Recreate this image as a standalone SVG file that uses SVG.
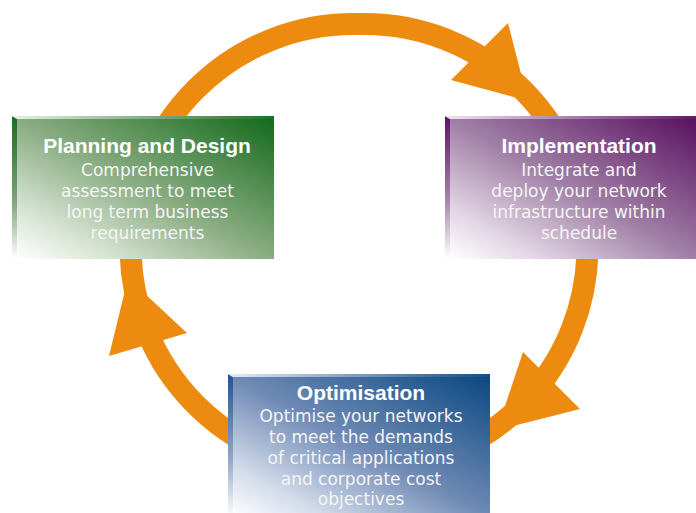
<svg xmlns="http://www.w3.org/2000/svg" width="696" height="513" viewBox="0 0 696 513">
<defs>
<style>
.ring{fill:none;stroke:#ED8B10;stroke-width:22}
.head{fill:#ED8B10}
.title{font-family:"Liberation Sans",Arial,sans-serif;font-weight:bold;font-size:21px;fill:#FFFFFF;text-anchor:middle}
.body{font-family:"DejaVu Sans","Liberation Sans",sans-serif;font-size:17px;fill:#F4F4F4;text-anchor:middle}
</style>
<linearGradient id="gFace" x1="0" y1="1" x2="1" y2="0">
<stop offset="0" stop-color="#FFFFFF"/><stop offset="0.18" stop-color="#D9E5D5"/><stop offset="0.5" stop-color="#89AC81"/><stop offset="1" stop-color="#146B1D"/>
</linearGradient>
<linearGradient id="gSide" x1="0" y1="0" x2="0" y2="1">
<stop offset="0" stop-color="#1C6B22"/><stop offset="0.6" stop-color="#7FA478"/><stop offset="1" stop-color="#FFFFFF"/>
</linearGradient>
<linearGradient id="gTop" x1="0" y1="0" x2="1" y2="0">
<stop offset="0" stop-color="#E9EFE7"/><stop offset="1" stop-color="#1E7026"/>
</linearGradient>
<linearGradient id="pFace" x1="0" y1="1" x2="1" y2="0">
<stop offset="0" stop-color="#FFFFFF"/><stop offset="0.18" stop-color="#E2D6E4"/><stop offset="0.5" stop-color="#A07FA6"/><stop offset="1" stop-color="#5A1261"/>
</linearGradient>
<linearGradient id="pSide" x1="0" y1="0" x2="0" y2="1">
<stop offset="0" stop-color="#5C1462"/><stop offset="0.6" stop-color="#A688AB"/><stop offset="1" stop-color="#FFFFFF"/>
</linearGradient>
<linearGradient id="pTop" x1="0" y1="0" x2="1" y2="0">
<stop offset="0" stop-color="#EDE6EE"/><stop offset="1" stop-color="#621A68"/>
</linearGradient>
<linearGradient id="bFace" x1="0" y1="1" x2="1" y2="0">
<stop offset="0" stop-color="#FFFFFF"/><stop offset="0.18" stop-color="#D3DCEA"/><stop offset="0.5" stop-color="#6F8AB5"/><stop offset="1" stop-color="#0B4981"/>
</linearGradient>
<linearGradient id="bSide" x1="0" y1="0" x2="0" y2="1">
<stop offset="0" stop-color="#1F5590"/><stop offset="0.6" stop-color="#93A8C8"/><stop offset="1" stop-color="#FFFFFF"/>
</linearGradient>
<linearGradient id="bTop" x1="0" y1="0" x2="1" y2="0">
<stop offset="0" stop-color="#E6EBF2"/><stop offset="1" stop-color="#124E85"/>
</linearGradient>
</defs>
<rect width="696" height="513" fill="#FFFFFF"/>
<g id="connectors">
<path class="ring" d="M353.5,24 L364.5,24 A223,223 0 0 1 364.5,470 L353.5,470 A223,223 0 0 1 353.5,24 Z"/>
<polygon class="head" points="508,23 451,80 528,101"/>
<polygon class="head" points="523,352 580,409 497,430"/>
<polygon class="head" points="109,356 187,333 128,278"/>
</g>
<g id="planning">
<rect x="17" y="119" width="257" height="140" fill="url(#gFace)"/>
<polygon points="12,116 17,119 17,259 12,259" fill="url(#gSide)"/>
<polygon points="12,116 274,116 274,119 17,119" fill="url(#gTop)"/>
<text class="title" x="147" y="153">Planning and Design</text>
<text class="body" x="147.5" y="176">Comprehensive</text>
<text class="body" x="147.5" y="197">assessment to meet</text>
<text class="body" x="147.5" y="218">long term business</text>
<text class="body" x="147.5" y="239">requirements</text>
</g>
<g id="implementation">
<rect x="450" y="119" width="246" height="140" fill="url(#pFace)"/>
<polygon points="445,116 450,119 450,259 445,259" fill="url(#pSide)"/>
<polygon points="445,116 696,116 696,119 450,119" fill="url(#pTop)"/>
<text class="title" x="579" y="153">Implementation</text>
<text class="body" x="579" y="176">Integrate and</text>
<text class="body" x="579" y="197">deploy your network</text>
<text class="body" x="579" y="218">infrastructure within</text>
<text class="body" x="579" y="239">schedule</text>
</g>
<g id="optimisation">
<rect x="233" y="377" width="257" height="140" fill="url(#bFace)"/>
<polygon points="228,374 233,377 233,517 228,517" fill="url(#bSide)"/>
<polygon points="228,374 490,374 490,377 233,377" fill="url(#bTop)"/>
<text class="title" x="361" y="400">Optimisation</text>
<text class="body" x="361" y="422">Optimise your networks</text>
<text class="body" x="361" y="443">to meet the demands</text>
<text class="body" x="361" y="464">of critical applications</text>
<text class="body" x="361" y="485">and corporate cost</text>
<text class="body" x="361" y="505">objectives</text>
</g>
</svg>
